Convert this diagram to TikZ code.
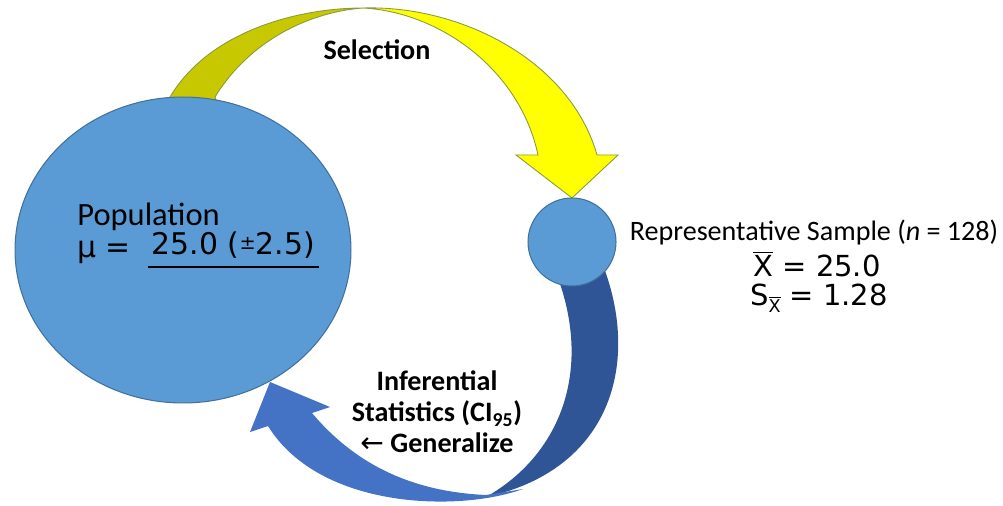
\documentclass[tikz,border=0pt]{standalone}
\usepackage{fontspec}
\setmainfont{Carlito}
\newfontfamily\vfont{DejaVu Sans}
\usetikzlibrary{shapes.geometric}
\definecolor{popblue}{HTML}{5B9BD5}
\definecolor{popedge}{HTML}{41719C}
\definecolor{selfront}{HTML}{FFFF00}
\definecolor{selback}{HTML}{C8C800}
\definecolor{seledge}{HTML}{8A9A3C}
\definecolor{infback}{HTML}{2F5597}
\definecolor{inffront}{HTML}{4472C4}
\tikzset{
  blob/.style={fill=popblue, draw=popedge, line width=.6pt, inner sep=0pt},
  lbl/.style={font=\fontsize{16}{17.6}\selectfont\bfseries, align=center},
  vtxt/.style={font=\vfont\fontsize{16.5}{19}\selectfont, anchor=base, inner sep=0pt},
}
\begin{document}
\begin{tikzpicture}[x=.02cm, y=-.02cm]
\useasboundingbox (0,0) rectangle (1003,506);
% selection arrow: back half, then front half with head
\filldraw[fill=selback, draw=seledge, line width=.5pt] (160,115) -- (170,97) .. controls (210,30) and (300,8) .. (363,8)
   .. controls (310,12) and (250,40) .. (215,97) -- (222,115) -- cycle;
\filldraw[fill=selfront, draw=seledge, line width=.5pt] (363,8) .. controls (460,5) and (570,60) .. (597,155) -- (618,155)
   -- (572,198) -- (516,155) -- (538,155) .. controls (520,70) and (440,12) .. (363,8) -- cycle;
% generalize arrow
\fill[infback] (604,268) .. controls (640,365) and (610,470) .. (486,497)
   .. controls (560,455) and (592,372) .. (558,278) -- cycle;
\fill[inffront] (270,382) -- (330,407) -- (312,413) .. controls (360,470) and (420,492) .. (486,495) -- (523,489)
   .. controls (460,512) and (320,510) .. (268,426) -- (250,432) -- cycle;

\node[blob, ellipse, minimum width=6.72cm, minimum height=6.12cm] (pop) at (183,250) {};
\node[blob, circle, minimum size=1.76cm] (samp) at (572,242) {};

\node[font=\fontsize{18.5}{22}\selectfont, anchor=base west, inner sep=0pt] (poplbl) at (77,226) {Population};
\node[vtxt, font=\vfont\fontsize{17}{20}\selectfont, anchor=base west] (mu) at (77,258) {μ =};
\node[vtxt, font=\vfont\fontsize{17}{20}\selectfont, anchor=base west, inner xsep=2pt, inner ysep=4.5pt] (mean)
   at (148,255) {25.0 (\raisebox{.35ex}{\fontsize{11}{13}\selectfont ±}2.5)};
\draw[line width=.9pt] (mean.south west) -- (mean.south east);

\node[lbl] (sel) at (377,50) {Selection};
\node[lbl] (inf) at (437,412) {Inferential\\Statistics (CI\textsubscript{95})\\{\vfont\mdseries ←} Generalize};

\node[font=\fontsize{16}{19}\selectfont, anchor=base, inner sep=0pt] (rep) at (814,241) {Representative Sample (\textit{n} = 128)};
\node[vtxt] (xbar) at (817,276) {$\overline{\hbox{X}}$ = 25.0};
\node[vtxt] (sx) at (819,305) {S\raisebox{-.45ex}{\fontsize{10}{12}\selectfont$\overline{\hbox{X}}$} = 1.28};
\end{tikzpicture}
\end{document}
